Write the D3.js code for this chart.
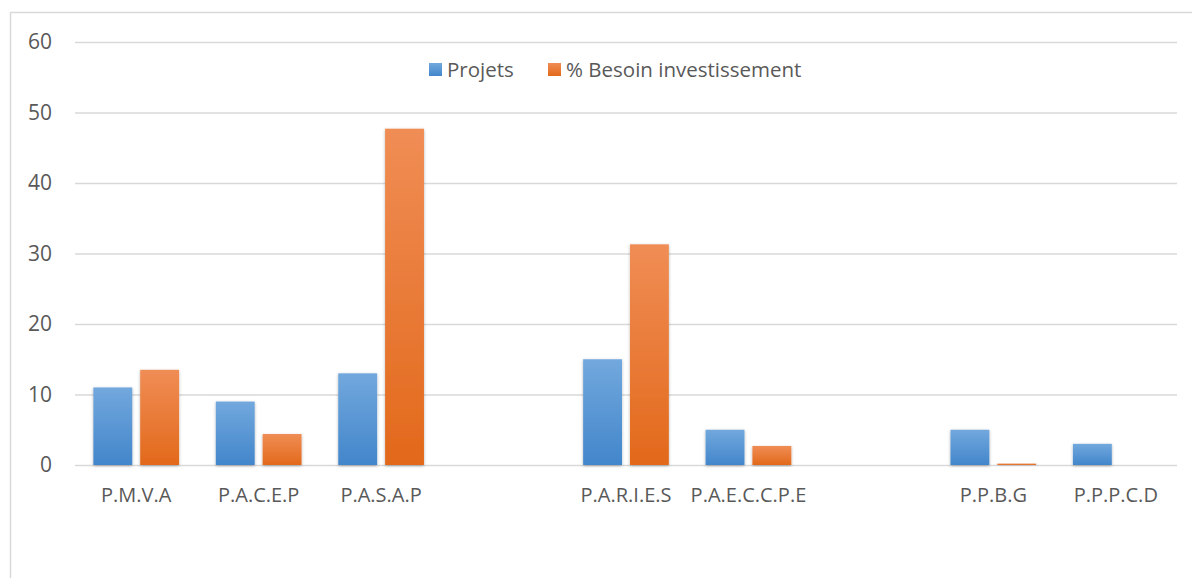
<!DOCTYPE html>
<html>
<head>
<meta charset="utf-8">
<script src="https://cdn.jsdelivr.net/npm/d3@7"></script>
<style>
  body { margin: 0; background: #fff; }
  svg { display: block; font-family: "Open Sans", sans-serif; }
</style>
</head>
<body>
<svg width="1192" height="578"></svg>
<script>
// donnees
const categories = ['P.M.V.A', 'P.A.C.E.P', 'P.A.S.A.P', '', 'P.A.R.I.E.S', 'P.A.E.C.C.P.E', '', 'P.P.B.G', 'P.P.P.C.D'];
const projets = [11, 9, 13, null, 15, 5, null, 5, 3];
const besoin = [13.5, 4.4, 47.7, null, 31.3, 2.7, null, 0.2, 0];
const seriesNames = ['Projets', '% Besoin investissement'];
const yTicks = [0, 10, 20, 30, 40, 50, 60];

const svg = d3.select('svg');
const width = +svg.attr('width');
const height = +svg.attr('height');

const margin = {top: 42, right: 15, bottom: 113, left: 75};
const innerWidth = width - margin.left - margin.right;
const innerHeight = height - margin.top - margin.bottom;

const defs = svg.append('defs');
const grad = (id, top, bottom) => {
    const lg = defs.append('linearGradient').attr('id', id)
        .attr('x1', 0).attr('y1', 0).attr('x2', 0).attr('y2', 1);
    lg.append('stop').attr('offset', '0%').attr('stop-color', top);
    lg.append('stop').attr('offset', '100%').attr('stop-color', bottom);
};
grad('gBlue', '#72a8dd', '#4286cb');
grad('gOrange', '#f08d55', '#e2691b');
const f = defs.append('filter').attr('id', 'shadow')
    .attr('x', '-20%').attr('y', '-5%').attr('width', '140%').attr('height', '115%');
f.append('feDropShadow').attr('dx', 0).attr('dy', 1).attr('stdDeviation', 1.5)
    .attr('flood-color', '#000').attr('flood-opacity', 0.3);

// cadre du graphique (bord haut et gauche visibles)
svg.append('path')
    .attr('d', `M10.5,${height} V12.5 H${width}`)
    .attr('fill', 'none').attr('stroke', '#d9d9d9').attr('stroke-width', 1.5);

const g = svg.append('g')
    .attr('transform', `translate(${margin.left}, ${margin.top})`);

const x0 = d3.scaleBand()
    .domain(d3.range(categories.length))
    .range([0, innerWidth])
    .paddingInner(0.3).paddingOuter(0.15);

const x1 = d3.scaleBand()
    .domain([0, 1])
    .range([0, x0.bandwidth()])
    .paddingInner(0.17);

const y = d3.scaleLinear()
    .domain([0, 60])
    .range([innerHeight, 0]);

// lignes de grille + labels y
const yAxis = g.append('g')
    .call(d3.axisLeft(y).tickValues(yTicks).tickSize(-innerWidth).tickPadding(23));
yAxis.select('.domain').remove();
yAxis.selectAll('.tick line').attr('stroke', '#d9d9d9').attr('stroke-width', 1.5);
yAxis.selectAll('.tick text')
    .attr('fill', '#595959').attr('font-size', 21).attr('font-family', '"Open Sans", sans-serif');

// labels x (pas de tick pour les categories vides)
const xAxis = g.append('g')
    .attr('transform', `translate(0, ${innerHeight})`)
    .call(d3.axisBottom(x0)
        .tickValues(d3.range(categories.length).filter(i => categories[i] !== ''))
        .tickFormat(i => categories[i]).tickSize(0).tickPadding(23));
xAxis.select('.domain').remove();
xAxis.selectAll('.tick text')
    .attr('fill', '#595959').attr('font-size', 20).attr('font-family', '"Open Sans", sans-serif');

const rows = categories.map((c, i) => ({i, values: [projets[i], besoin[i]]}));
const fills = ['url(#gBlue)', 'url(#gOrange)'];

g.selectAll('g.cat').data(rows)
    .enter()
    .append('g')
        .attr('class', 'cat')
        .attr('transform', d => `translate(${x0(d.i)}, 0)`)
    .selectAll('rect')
    .data(d => d.values.map((v, s) => ({v, s})).filter(e => e.v != null && e.v > 0))
    .enter()
    .append('rect')
        .attr('x', d => x1(d.s))
        .attr('y', d => y(d.v))
        .attr('width', x1.bandwidth())
        .attr('height', d => innerHeight - y(d.v))
        .attr('fill', d => fills[d.s])
        .attr('filter', 'url(#shadow)');

// legende
const legend = svg.append('g').attr('transform', 'translate(429, 63)');
const legX = [0, 119];
seriesNames.forEach((name, s) => {
    const lg = legend.append('g').attr('transform', `translate(${legX[s]}, 0)`);
    lg.append('rect').attr('width', 13).attr('height', 13).attr('fill', fills[s]);
    lg.append('text').attr('x', 18).attr('y', 14)
        .attr('fill', '#595959').attr('font-size', 20.5)
        .text(name);
});
</script>
</body>
</html>
